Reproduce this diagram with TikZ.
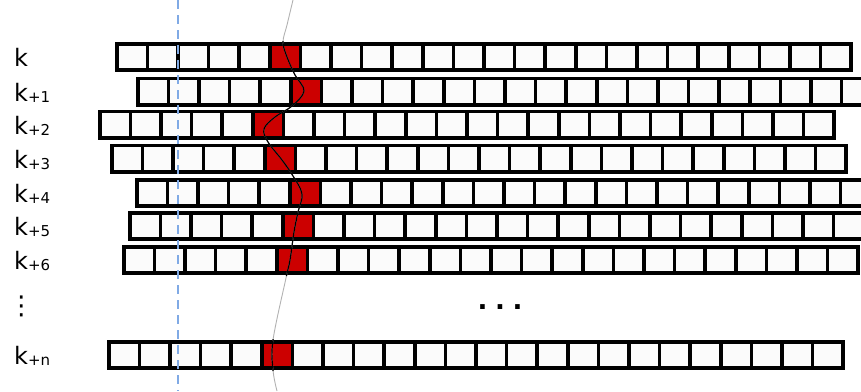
\documentclass[tikz,border=0pt]{standalone}
\usepackage{xcolor}
\usepackage{fontspec}
\setmainfont{DejaVu Sans}
\usepackage{tikz}

\definecolor{cellred}{HTML}{CC0000}
\definecolor{cellwhite}{HTML}{FBFBFB}
\definecolor{guideblue}{HTML}{6A9BE0}

\newcommand{\klab}[1]{k{\fontsize{15}{15}\selectfont\raisebox{-1pt}{+#1}}}
\newcommand{\wavepath}{plot[smooth, tension=0.6] coordinates {(293,0) (287,25) (283,42) (287,57) (295,75) (304,91) (292,106) (275,117) (264,129) (268,142) (282,160) (293,176) (302,194) (298,212) (294,232) (290,260) (286,278) (273,340) (273,370) (277,391)}}

\begin{document}
\begin{tikzpicture}[
		x=1pt, y=-1pt,
		cell/.style={draw, line width=3.6pt, fill=cellwhite, minimum width=30.625pt, minimum height=26.4pt, inner sep=0pt, outer sep=0pt},
		hot/.style={cell, fill=cellred},
		rowlabel/.style={anchor=base west, inner sep=0pt, font=\fontsize{24}{24}\selectfont},
		guide/.style={guideblue!85, dash pattern=on 9pt off 6pt, line width=1.3pt},
		trace/.style={black, line width=1.2pt},
		fade/.style={black!30, line width=0.9pt}
		]
		\useasboundingbox (0,0) rectangle (861,391);
		\clip (0,0) rectangle (861,391);
		
		% Shifted rows of cells, one red cell each
		\foreach \s/\y/\lbl [count=\r] in {115/57/k, 136/91.5/\klab{1}, 98/124.5/\klab{2}, 110/158.5/\klab{3}, 135/193/\klab{4}, 128/226/\klab{5}, 122/260/\klab{6}, 107/355/\klab{n}}{
			\foreach \i in {0,...,23}{
				\ifnum\i=5 \def\kind{hot}\else\def\kind{cell}\fi
				\node[\kind] (c\r-\i) at ({\s+1.8+(\i+0.5)*30.6},\y) {};
			}
			\node[rowlabel] (lab\r) at (14,\y+9.5) {\lbl};
		}
		
		% Omitted rows
		\node[inner sep=0pt, font=\fontsize{26}{26}\selectfont] (vdots) at (21.5,306) {⋮};
		\node[anchor=base, inner sep=0pt, font=\bfseries\fontsize{26}{26}\selectfont] (hdots) at (500,309) {.\hspace{7.6pt}.\hspace{7.6pt}.};
		
		% Reference line
		\draw[guide] (178,0) -- (178,391);
		
		% Trace through the red cells
		\draw[fade] \wavepath;
		\begin{scope}
			\clip (0,41) rectangle (861,276) (0,339) rectangle (861,371);
			\draw[trace] \wavepath;
		\end{scope}
	\end{tikzpicture}
\end{document}
